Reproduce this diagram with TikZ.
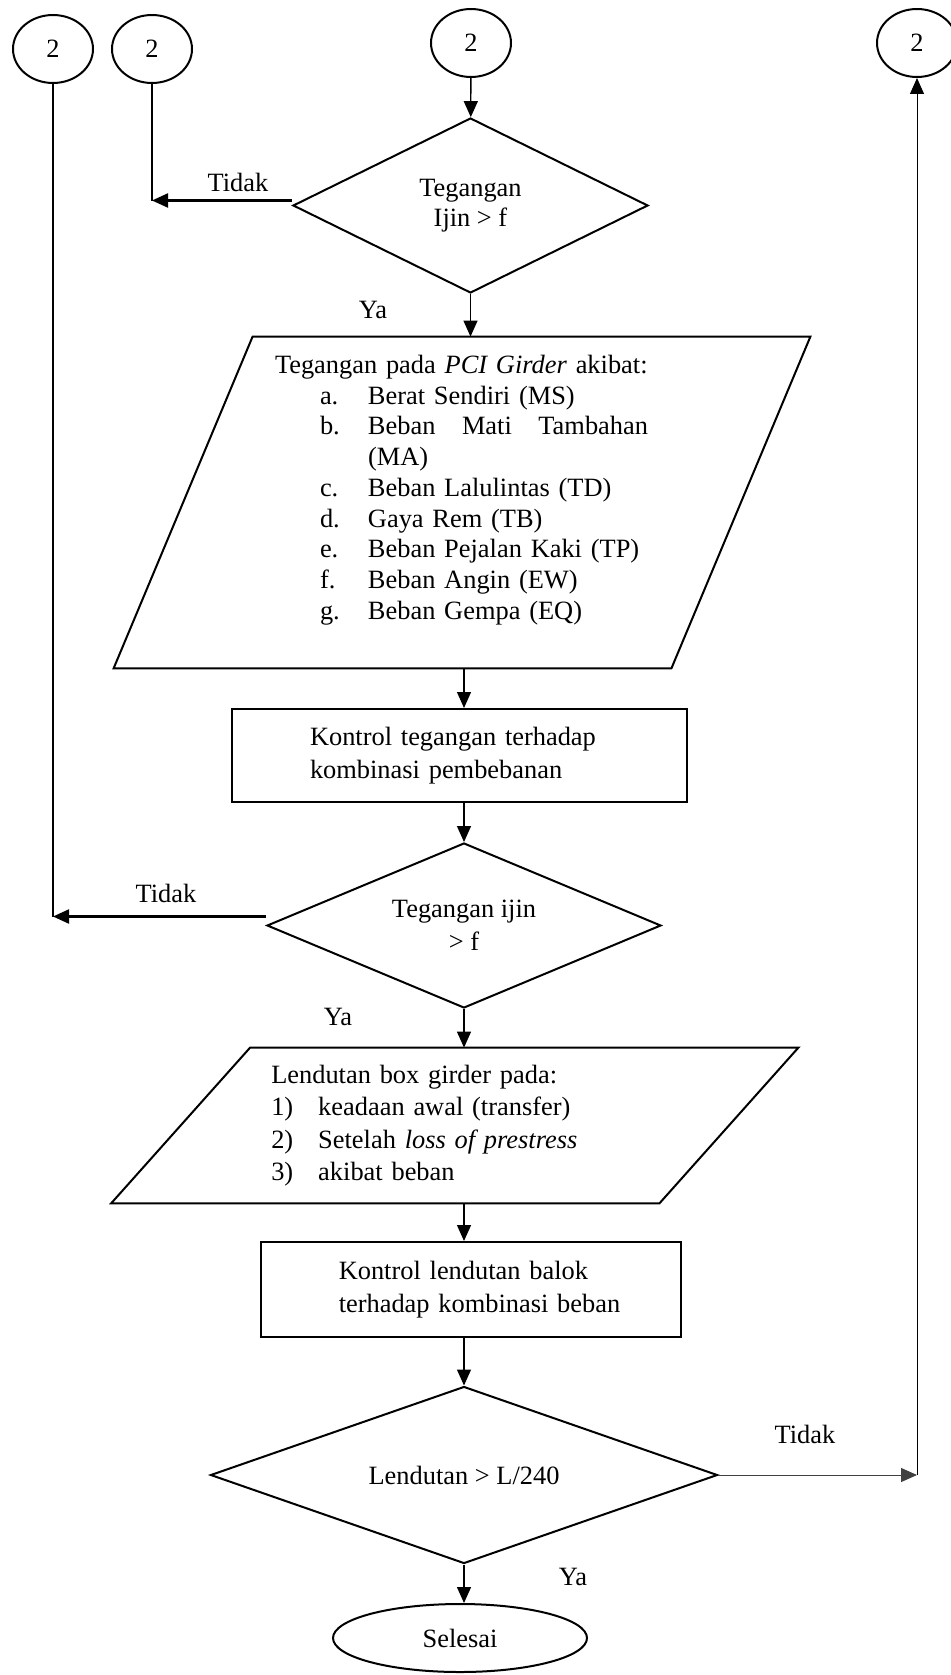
\documentclass[tikz,border=0pt]{standalone}
\usepackage{fontspec}
\setmainfont{Liberation Serif}
\usetikzlibrary{shapes.geometric,arrows.meta}

\newcommand{\itm}[2]{\hspace*{22.5pt}\makebox[24pt][l]{#1}#2}
\newcommand{\nitm}[2]{\makebox[23.5pt][l]{#1}#2}

\begin{document}
\begin{tikzpicture}[x=0.5pt,y=-0.5pt,font=\fontsize{13.2}{15}\selectfont]
    % Node styles
    \tikzset{
      connector/.style={ellipse,draw,line width=1pt,minimum width=40pt,minimum height=34pt,inner sep=0pt},
      decision/.style={diamond,draw,line width=1pt,inner sep=0pt,shape aspect=2.5,align=center},
      process/.style={rectangle,draw,line width=1pt,inner sep=0pt,align=left},
      io/.style={rectangle,inner sep=0pt,align=left},
      terminal/.style={ellipse,draw,line width=1pt,minimum width=127pt,minimum height=34pt,inner sep=0pt},
      lbl/.style={inner sep=0pt},
      flow/.style={-{Triangle[length=8pt,width=7pt]},line width=0.65pt},
      back/.style={-{Triangle[length=8pt,width=7pt]},line width=1.1pt},
      loop/.style={line width=0.5pt}
    }
    \useasboundingbox (0,0) rectangle (950,1675);

    % --- Off-page connectors ---
    \node[connector] (con_a) at (53,49) {2};
    \node[connector] (con_b) at (152,49) {2};
    \node[connector] (con_c) at (471,43) {2};
    \node[connector] (con_d) at (917,43) {2};

    % --- First check ---
    \node[decision, minimum width=177.5pt, minimum height=87.5pt, font=\fontsize{13.2}{15}\selectfont]
      (dec1) at (470.5,205.5) {Tegangan\\Ijin > f};
    \draw[flow] (con_c) -- (dec1);
    \draw[line width=1pt] (con_b) -- ([yshift=2.5pt]dec1.west -| con_b.south);
    \draw[back] ([yshift=2.5pt]dec1.west) -- ([yshift=2.5pt]dec1.west -| con_b.south);
    \node[lbl] (no1) at (238,182) {Tidak};
    \node[lbl] (yes1) at (373,310) {Ya};

    % --- Stresses on the girder ---
    \node[io, minimum width=348pt, minimum height=165.5pt, text width=187pt,
      font=\fontsize{13.2}{15.35}\selectfont] (in1) at (462,502.5)
      {Tegangan pada \textit{PCI Girder} akibat:\\
       \itm{a.}{Berat Sendiri (MS)}\\
       \itm{b.}{\makebox[140pt]{Beban\hfill Mati\hfill Tambahan}}\\
       \hspace*{46.5pt}(MA)\\
       \itm{c.}{Beban Lalulintas (TD)}\\
       \itm{d.}{Gaya Rem (TB)}\\
       \itm{e.}{Beban Pejalan Kaki (TP)}\\
       \itm{f.}{Beban Angin (EW)}\\
       \itm{g.}{Beban Gempa (EQ)}\\
       \mbox{}};
    \draw[line width=1pt] ([xshift=69.5pt]in1.north west) -- (in1.north east)
      -- ([xshift=-69.5pt]in1.south east) -- (in1.south west) -- cycle;
    \draw[flow] (dec1.south) -- (dec1.south |- in1.north);

    % --- Stress control ---
    \node[process, minimum width=227.5pt, minimum height=46.5pt, text width=149.5pt,
      font=\fontsize{13.2}{16.5}\selectfont] (proc1) at (459.5,755.5)
      {Kontrol tegangan terhadap\\kombinasi pembebanan};
    \node[decision, minimum width=197pt, minimum height=82.5pt, font=\fontsize{13.2}{16.5}\selectfont]
      (dec2) at (464,925.5) {Tegangan ijin\\> f};
    \draw[flow] (in1.south -| dec2.north) -- (proc1.north -| dec2.north);
    \draw[flow] (proc1.south -| dec2.north) -- (dec2.north);
    \draw[line width=1pt] (con_a) -- ([yshift=4.5pt]dec2.west -| con_a.south);
    \draw[back] ([yshift=4.5pt]dec2.west) -- ([yshift=4.5pt]dec2.west -| con_a.south);
    \node[lbl] (no2) at (166,893) {Tidak};
    \node[lbl] (yes2) at (338,1017) {Ya};

    % --- Deflection ---
    \node[io, minimum width=343.25pt, minimum height=77.5pt, text width=183.5pt,
      font=\fontsize{13.2}{16.2}\selectfont] (in2) at (454.75,1125.5)
      {Lendutan box girder pada:\\
       \nitm{1)}{keadaan awal (transfer)}\\
       \nitm{2)}{Setelah \textit{loss of prestress}}\\
       \nitm{3)}{akibat beban}};
    \draw[line width=1pt] ([xshift=69.5pt]in2.north west) -- (in2.north east)
      -- ([xshift=-69.5pt]in2.south east) -- (in2.south west) -- cycle;
    \draw[flow] (dec2.south) -- (dec2.south |- in2.north);

    \node[process, minimum width=209.75pt, minimum height=47.5pt, text width=151pt,
      font=\fontsize{13.2}{16.5}\selectfont] (proc2) at (470.75,1289.5)
      {\hspace*{9.5pt}Kontrol lendutan balok\\\hspace*{9.5pt}\mbox{terhadap kombinasi beban}};
    \node[decision, minimum width=253.5pt, minimum height=88.5pt] (dec3) at (464,1475)
      {Lendutan > L/240};
    \draw[flow] (in2.south -| dec2.south) -- (proc2.north -| dec2.south);
    \draw[flow] (proc2.south -| dec3.north) -- (dec3.north);

    % --- Back to the top and end ---
    \draw[loop, black!75, -{Triangle[length=8pt,width=7pt]}] (dec3.east) -- (dec3.east -| con_d.south);
    \draw[loop, -{Triangle[length=8pt,width=7pt]}] (dec3.east -| con_d.south) -- (con_d.south);
    \node[lbl] (no3) at (805,1434) {Tidak};

    \node[terminal] (stop) at (460,1638) {Selesai};
    \draw[flow] (dec3.south) -- (dec3.south |- stop.north);
    \node[lbl] (yes3) at (573,1577) {Ya};
\end{tikzpicture}
\end{document}
